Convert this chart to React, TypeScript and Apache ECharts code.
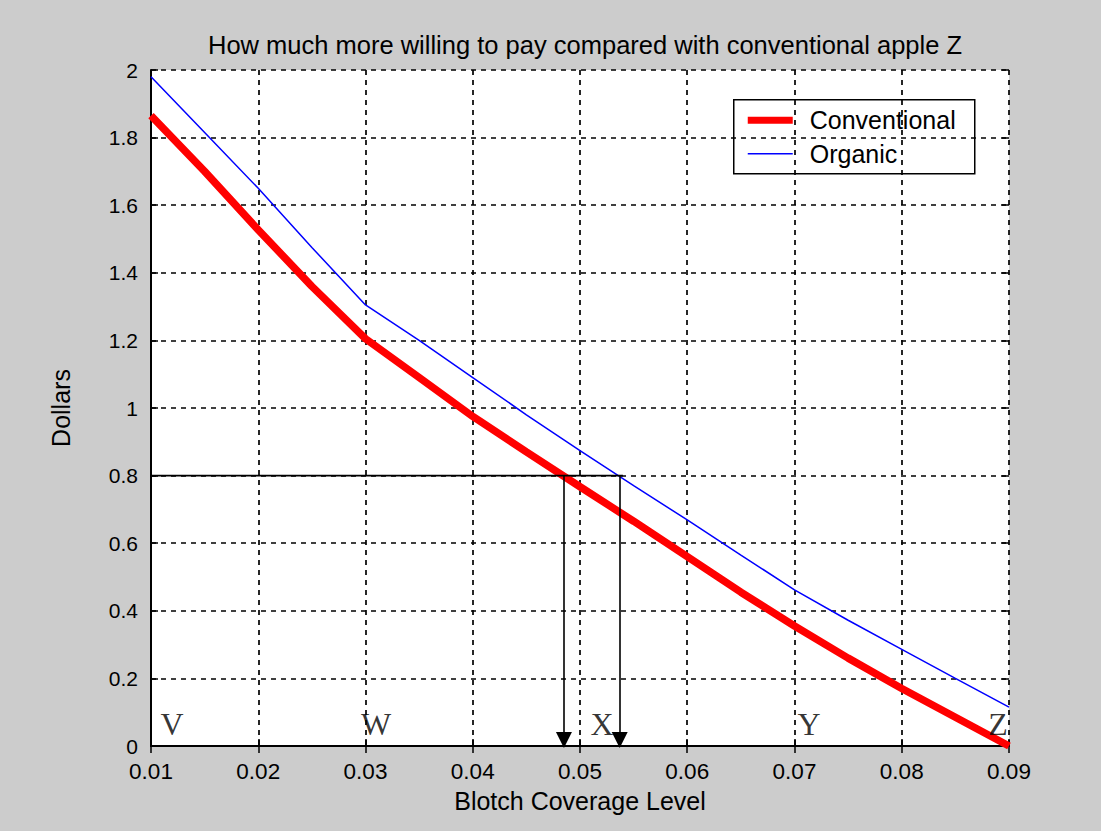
import React, { useEffect, useRef } from "react";
import * as echarts from "echarts";

const xValues = [0.01, 0.015, 0.02, 0.025, 0.03, 0.035, 0.04, 0.045, 0.05, 0.055, 0.06, 0.065, 0.07, 0.075, 0.08, 0.085, 0.09];
const conventional = [1.865, 1.70, 1.527, 1.36, 1.205, 1.09, 0.975, 0.87, 0.767, 0.665, 0.56, 0.455, 0.355, 0.26, 0.17, 0.085, 0.0];
const organic = [1.98, 1.815, 1.65, 1.475, 1.305, 1.2, 1.09, 0.98, 0.874, 0.77, 0.669, 0.565, 0.462, 0.372, 0.286, 0.2, 0.115];

const guideLevel = 0.8;
const guideStartX = 0.01;
const guideEndX = 0.054;
const arrowX = [0.0485, 0.0537];
const arrowEndY = 0.018;

const letterLabels = ["V", "W", "X", "Y", "Z"];
const letterX = [0.01196, 0.03098, 0.05205, 0.07135, 0.08898];
const letterY = 0.065;

const titleText = "How much more willing to pay compared with conventional apple Z";
const xName = "Blotch Coverage Level";
const yName = "Dollars";
const legendNames = ["Conventional", "Organic"];

const FONT = '"Liberation Sans", Arial, sans-serif';

export default function App() {
  const ref = useRef<HTMLDivElement>(null);
  useEffect(() => {
    if (!ref.current) return;
    const chart = echarts.init(ref.current, null, { renderer: "svg" });
    const gridDash = { color: "#000", width: 1.7, type: [5, 5] as any };
    chart.setOption({
      animation: false,
      backgroundColor: "#cccccc",
      title: {
        text: titleText,
        left: 580,
        top: 27,
        textAlign: "center",
        textStyle: { fontFamily: FONT, fontSize: 25.5, fontWeight: "normal", color: "#000" },
      },
      grid: { left: 151, top: 70, width: 858, height: 676, show: true, backgroundColor: "#fff", borderWidth: 0 },
      xAxis: [
        {
          type: "value",
          min: 0.01,
          max: 0.09,
          interval: 0.01,
          name: xName,
          nameLocation: "middle",
          nameGap: 42,
          nameTextStyle: { fontFamily: FONT, fontSize: 25, color: "#000" },
          axisLine: { show: true, onZero: false, lineStyle: { color: "#000", width: 2 } },
          axisTick: { show: true, inside: true, length: 7, lineStyle: { color: "#000", width: 1.5 } },
          axisLabel: { fontFamily: FONT, fontSize: 22.5, color: "#000", margin: 14, formatter: (v: number) => v.toFixed(2) },
          splitLine: { show: true, lineStyle: gridDash },
        },
        {
          type: "value",
          position: "top",
          min: 0.01,
          max: 0.09,
          interval: 0.01,
          axisLine: { show: false },
          axisTick: { show: true, inside: true, length: 7, lineStyle: { color: "#000", width: 1.5 } },
          axisLabel: { show: false },
          splitLine: { show: false },
        },
      ],
      yAxis: [
        {
          type: "value",
          min: 0,
          max: 2,
          interval: 0.2,
          name: yName,
          nameLocation: "middle",
          nameRotate: 90,
          nameGap: 78,
          nameTextStyle: { fontFamily: FONT, fontSize: 25, color: "#000" },
          axisLine: { show: true, onZero: false, lineStyle: { color: "#000", width: 2 } },
          axisTick: { show: true, inside: true, length: 7, lineStyle: { color: "#000", width: 1.5 } },
          axisLabel: { fontFamily: FONT, fontSize: 21, color: "#000", margin: 13, formatter: (v: number) => String(Math.round(v * 10) / 10) },
          splitLine: { show: true, lineStyle: gridDash },
        },
        {
          type: "value",
          position: "right",
          min: 0,
          max: 2,
          interval: 0.2,
          axisLine: { show: false },
          axisTick: { show: true, inside: true, length: 7, lineStyle: { color: "#000", width: 1.5 } },
          axisLabel: { show: false },
          splitLine: { show: false },
        },
      ],
      series: [
        {
          name: "guide",
          type: "line",
          silent: true,
          symbol: "none",
          data: [[guideStartX, guideLevel], [guideEndX, guideLevel]],
          lineStyle: { color: "#000", width: 1.6 },
          z: 4,
          markLine: {
            silent: true,
            symbol: ["none", "triangle"],
            symbolSize: [16, 16],
            label: { show: false },
            lineStyle: { color: "#000", width: 1.6, type: "solid" },
            data: arrowX.map((x) => [{ coord: [x, guideLevel] }, { coord: [x, arrowEndY] }]),
          },
        },
        {
          name: legendNames[1],
          type: "line",
          symbol: "none",
          data: xValues.map((x, i) => [x, organic[i]]),
          lineStyle: { color: "#0000ff", width: 1.5 },
          z: 3,
        },
        {
          name: legendNames[0],
          type: "line",
          symbol: "none",
          data: xValues.map((x, i) => [x, conventional[i]]),
          lineStyle: { color: "#ff0000", width: 7.5 },
          z: 2,
        },
        {
          name: "letters",
          type: "scatter",
          silent: true,
          symbolSize: 1,
          itemStyle: { color: "rgba(0,0,0,0)" },
          data: letterX.map((x, i) => ({ value: [x, letterY], name: letterLabels[i] })),
          label: {
            show: true,
            position: "inside",
            formatter: (p: any) => p.name,
            fontFamily: '"Liberation Serif", "Times New Roman", serif',
            fontSize: 32,
            color: "#000",
          },
          z: 5,
        },
      ],
      graphic: [
        {
          type: "group",
          left: 733,
          top: 99,
          children: [
            { type: "rect", shape: { x: 0, y: 0, width: 241, height: 74 }, style: { fill: "#fff", stroke: "#000", lineWidth: 1.5 } },
            { type: "line", shape: { x1: 14, y1: 20.5, x2: 59, y2: 20.5 }, style: { stroke: "#ff0000", lineWidth: 7 } },
            { type: "line", shape: { x1: 14, y1: 54, x2: 59, y2: 54 }, style: { stroke: "#0000ff", lineWidth: 1.5 } },
            { type: "text", x: 76, y: 20.5, style: { text: legendNames[0], font: `25px ${FONT}`, fill: "#000", verticalAlign: "middle" } },
            { type: "text", x: 76, y: 54, style: { text: legendNames[1], font: `25px ${FONT}`, fill: "#000", verticalAlign: "middle" } },
          ],
        },
      ],
    });
    return () => chart.dispose();
  }, []);
  return <div ref={ref} style={{ position: "absolute", left: 0, top: 0, width: 1101, height: 831 }} />;
}
